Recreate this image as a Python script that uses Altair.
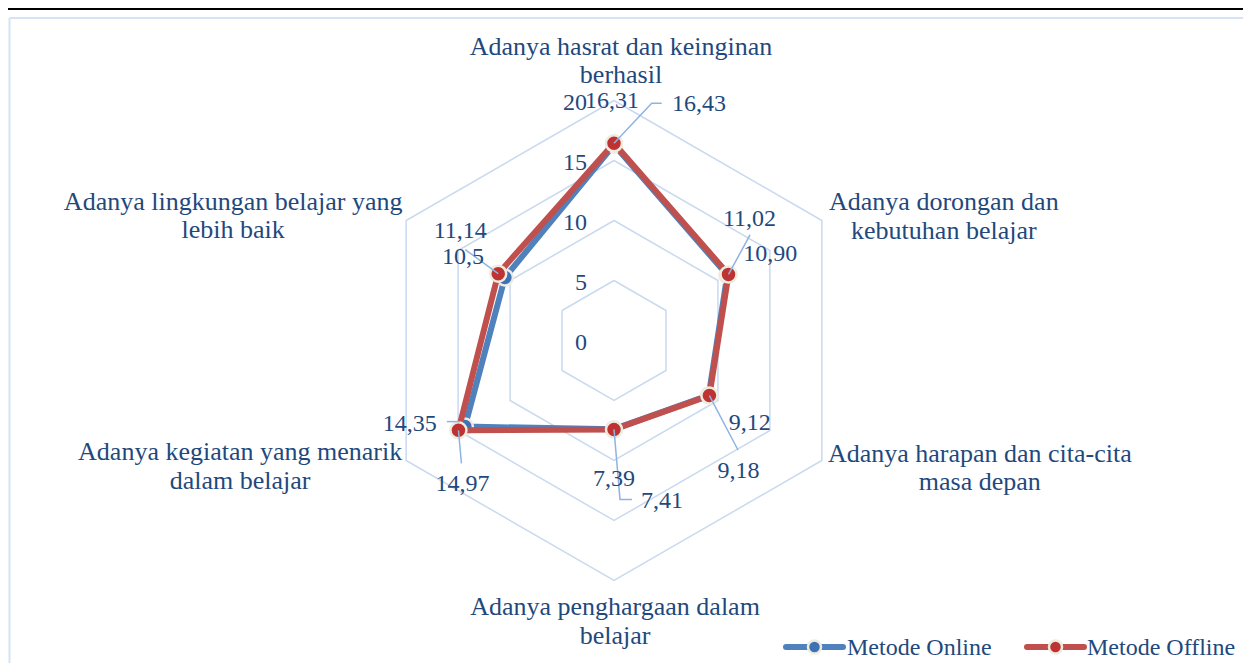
import altair as alt
import pandas as pd

# ---------------- data ----------------
categories = [
    "Adanya hasrat dan keinginan berhasil",
    "Adanya dorongan dan kebutuhan belajar",
    "Adanya harapan dan cita-cita masa depan",
    "Adanya penghargaan dalam belajar",
    "Adanya kegiatan yang menarik dalam belajar",
    "Adanya lingkungan belajar yang lebih baik",
]
category_text = [
    "Adanya hasrat dan keinginan\nberhasil",
    "Adanya dorongan dan\nkebutuhan belajar",
    "Adanya harapan dan cita-cita\nmasa depan",
    "Adanya penghargaan dalam\nbelajar",
    "Adanya kegiatan yang menarik\ndalam belajar",
    "Adanya lingkungan belajar yang\nlebih baik",
]
series_names = ["Metode Online", "Metode Offline"]
online_values = [16.31, 10.90, 9.12, 7.39, 14.35, 10.5]
offline_values = [16.43, 11.02, 9.18, 7.41, 14.97, 11.14]
online_labels = ["16,31", "10,90", "9,12", "7,39", "14,35", "10,5"]
offline_labels = ["16,43", "11,02", "9,18", "7,41", "14,97", "11,14"]
tick_values = [0, 5, 10, 15, 20]
tick_labels = ["0", "5", "10", "15", "20"]

# ---------------- style / layout ----------------
W, H = 1235, 655
S = 12.0                      # pixels per unit of radius
CX, CY = 606, 332.5           # centre of the radar in chart pixels
BLUE, RED = "#4F81BD", "#C0504D"
BLUE_PT, RED_PT = "#3E72B5", "#BE3331"
RING = "#EEECE1"
TEXT = "#1F497D"
GRID = "#C9DAF0"
LEADER = "#8EB4E3"
FONT = "Liberation Serif"

# pixel offsets of data labels from their points
label_offsets = {
    "Metode Online": [(-2, -45), (43, -22), (41, 27), (0, 49), (-55, -4), (-42, -22)],
    "Metode Offline": [(85, -40), (21, -56), (29, 74), (48, 71), (4, 53), (-38, -44)],
}
# leader lines: (series, category index, waypoints in pixel offsets from the point)
leaders = [
    ("Metode Offline", 0, [(0, 0), (37.7, -40), (47.7, -40)]),
    ("Metode Offline", 1, [(0, 0), (21.5, -39.4)]),
    ("Metode Offline", 2, [(0, 0), (28.6, 54.4)]),
    ("Metode Offline", 3, [(0, 0), (6, 70), (18, 70)]),
    ("Metode Online", 4, [(-5, -5), (-18, -5)]),
    ("Metode Offline", 4, [(0, 0), (3, 33)]),
    ("Metode Offline", 5, [(-33, -24), (0, 0)]),
]
# category label offsets (pixels, first line) from the outer grid vertex
cat_offsets = [(7, -54), (122, -18.5), (158, -7), (1, 26.5), (-166, -8.5), (-173, -19)]

x_dom = [-CX / S, (W - CX) / S]
y_dom = [-(H - CY) / S, CY / S]
X = alt.X("x:Q", scale=alt.Scale(domain=x_dom, nice=False, zero=False), axis=None)
Y = alt.Y("y:Q", scale=alt.Scale(domain=y_dom, nice=False, zero=False), axis=None)

POLAR_X = "datum.value * sin(datum.idx * PI / 3) + datum.dx / %g" % S
POLAR_Y = "datum.value * cos(datum.idx * PI / 3) - datum.dy / %g" % S

series_values = {"Metode Online": online_values, "Metode Offline": offline_values}
series_labels = {"Metode Online": online_labels, "Metode Offline": offline_labels}

# ---------------- tables ----------------
grid_rows = []
for r in tick_values[1:]:
    for k in range(7):
        grid_rows.append(dict(ring=r, k=k, idx=k % 6, value=r, dx=0, dy=0))
grid_df = pd.DataFrame(grid_rows)

tick_df = pd.DataFrame(dict(value=tick_values, label=tick_labels, idx=0, dx=0, dy=0))

series_rows = []
for s in series_names:
    vals = series_values[s]
    for k in range(7):
        i = k % 6
        series_rows.append(dict(series=s, k=k, idx=i, value=vals[i], dx=0, dy=0))
series_df = pd.DataFrame(series_rows)

label_rows = []
for s in series_names:
    for i in range(6):
        dx, dy = label_offsets[s][i]
        label_rows.append(dict(series=s, idx=i, value=series_values[s][i],
                               label=series_labels[s][i], dx=dx, dy=dy))
label_df = pd.DataFrame(label_rows)

leader_rows = []
for j, (s, i, pts) in enumerate(leaders):
    for m, (dx, dy) in enumerate(pts):
        leader_rows.append(dict(lid=j, m=m, idx=i, value=series_values[s][i], dx=dx, dy=dy))
leader_df = pd.DataFrame(leader_rows)

cat_df = pd.DataFrame(dict(
    category=categories, text=category_text, idx=list(range(6)), value=tick_values[-1],
    dx=[o[0] for o in cat_offsets], dy=[o[1] for o in cat_offsets]))

# ---------------- layers ----------------
top_rule = alt.Chart(pd.DataFrame({"a": [0]})).mark_rule(color="black", strokeWidth=2.2).encode(
    x=alt.value(0), x2=alt.value(W), y=alt.value(1))
frame_left = alt.Chart(pd.DataFrame({"a": [0]})).mark_rule(color="#D6E3F4", strokeWidth=2).encode(
    x=alt.value(1.5), y=alt.value(10), y2=alt.value(H))
frame_top = alt.Chart(pd.DataFrame({"a": [0]})).mark_rule(color="#D6E3F4", strokeWidth=2).encode(
    x=alt.value(1.5), x2=alt.value(W), y=alt.value(10))

grid = alt.Chart(grid_df).transform_calculate(x=POLAR_X, y=POLAR_Y).mark_line(
    color=GRID, strokeWidth=1.5).encode(x=X, y=Y, detail="ring:N", order="k:Q")

ticks = alt.Chart(tick_df).transform_calculate(x=POLAR_X, y=POLAR_Y).mark_text(
    font=FONT, fontSize=24, color=TEXT, align="right", baseline="middle", dx=-27, dy=2
).encode(x=X, y=Y, text="label:N")


def series_layers(name, line_color, pt_color):
    base = alt.Chart(series_df).transform_filter(
        alt.datum.series == name).transform_calculate(x=POLAR_X, y=POLAR_Y)
    line = base.mark_line(color=line_color, strokeWidth=6, strokeJoin="round").encode(
        x=X, y=Y, order="k:Q")
    pts = base.transform_filter(alt.datum.k < 6).mark_point(
        shape="circle", filled=True, size=256, fill=pt_color, stroke=RING,
        strokeWidth=2.5, opacity=1).encode(x=X, y=Y)
    return [line, pts]


leader_layer = alt.Chart(leader_df).transform_calculate(x=POLAR_X, y=POLAR_Y).mark_line(
    color=LEADER, strokeWidth=1.5).encode(x=X, y=Y, detail="lid:N", order="m:Q")

data_labels = alt.Chart(label_df).transform_calculate(x=POLAR_X, y=POLAR_Y).mark_text(
    font=FONT, fontSize=24, color=TEXT, align="center", baseline="middle", dy=1
).encode(x=X, y=Y, text="label:N")

cat_labels = alt.Chart(cat_df).transform_calculate(x=POLAR_X, y=POLAR_Y).mark_text(
    font=FONT, fontSize=26, color=TEXT, align="center", baseline="middle",
    lineBreak="\n", lineHeight=28.5
).encode(x=X, y=Y, text="text:N")

# legend (bottom right)
legend_layers = []
legend_pos = [(778, 835, 839), (1019, 1076, 1079)]
for s, (x0, x1, xt), lc, pc in zip(series_names, legend_pos, [BLUE, RED], [BLUE_PT, RED_PT]):
    one = pd.DataFrame({"series": [s]})
    ly = 639
    legend_layers.append(alt.Chart(one).mark_rule(color=lc, strokeWidth=6, strokeCap="round").encode(
        x=alt.value(x0), x2=alt.value(x1), y=alt.value(ly)))
    legend_layers.append(alt.Chart(one).mark_point(
        shape="circle", filled=True, size=170, fill=pc, stroke=RING, strokeWidth=2.5, opacity=1
    ).encode(x=alt.value((x0 + x1) / 2), y=alt.value(ly)))
    legend_layers.append(alt.Chart(one).mark_text(
        font=FONT, fontSize=24, color=TEXT, align="left", baseline="middle", dy=1
    ).encode(x=alt.value(xt), y=alt.value(ly), text="series:N"))

layers = [top_rule, frame_left, frame_top, grid, ticks]
layers += series_layers("Metode Online", BLUE, BLUE_PT)
layers += series_layers("Metode Offline", RED, RED_PT)
layers += [leader_layer, data_labels, cat_labels] + legend_layers

chart = alt.layer(*layers).properties(
    width=W, height=H, padding=0, background="white",
    autosize=alt.AutoSizeParams(type="none"),
).configure_view(stroke=None)

chart.save("out.html", embed_options={"renderer": "svg", "actions": False})
